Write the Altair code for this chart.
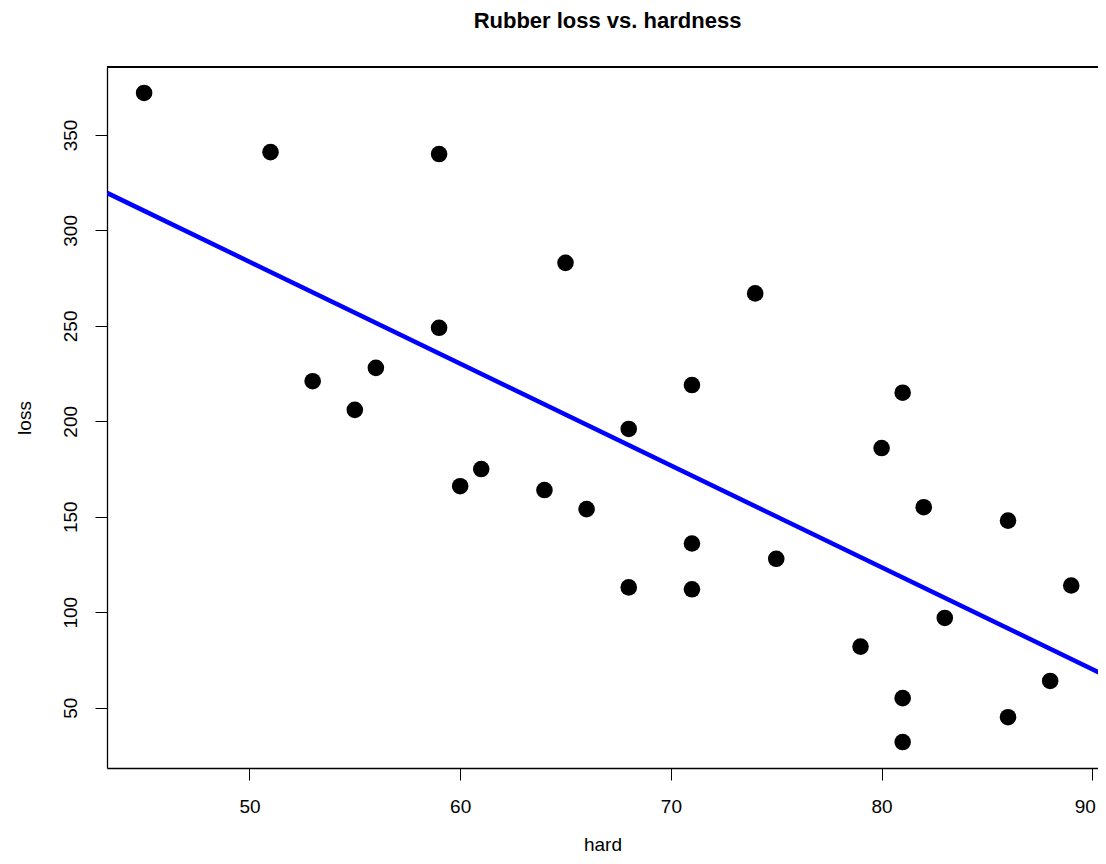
import altair as alt
import pandas as pd

hard = [45, 55, 61, 66, 71, 71, 81, 86, 53, 60, 64, 68, 79, 81, 56,
        68, 75, 83, 88, 59, 71, 80, 82, 89, 51, 59, 65, 74, 81, 86]
loss = [372, 206, 175, 154, 136, 112, 55, 45, 221, 166, 164, 113, 82, 32, 228,
        196, 128, 97, 64, 249, 219, 186, 155, 114, 341, 340, 283, 267, 215, 148]

df = pd.DataFrame({"hard": hard, "loss": loss})

# R's 4% extended range; right end trimmed to where the reference image is cut
XDOM = [43.24, 90.27]
LINE_EXT = [43.24, 90.76]
YDOM = [18.4, 385.6]
FONT = "Liberation Sans"

xscale = alt.Scale(domain=XDOM, nice=False, zero=False)
yscale = alt.Scale(domain=YDOM, nice=False, zero=False)

x = alt.X("hard:Q", scale=xscale,
          axis=alt.Axis(values=[50, 60, 70, 80, 90], title="hard", grid=False,
                        domain=True, domainColor="black", domainWidth=1.3,
                        tickSize=12, tickColor="black", tickWidth=1,
                        labelFont=FONT, labelFontSize=19, labelColor="black",
                        labelFlush=8, labelFlushOffset=3,
                        labelPadding=17, titleFont=FONT, titleFontSize=19,
                        titleFontWeight="normal", titleColor="black", titlePadding=19))
y = alt.Y("loss:Q", scale=yscale,
          axis=alt.Axis(values=[50, 100, 150, 200, 250, 300, 350], title="loss", grid=False,
                        domain=True, domainColor="black", domainWidth=1.3,
                        tickSize=12, tickColor="black", tickWidth=1,
                        labelFont=FONT, labelFontSize=19, labelColor="black",
                        labelAngle=-90, labelAlign="center", labelBaseline="bottom",
                        labelPadding=15, titleFont=FONT, titleFontSize=19,
                        titleFontWeight="normal", titleColor="black", titlePadding=27))

points = alt.Chart(df).mark_circle(size=275, color="black", opacity=1).encode(x=x, y=y)

line = alt.Chart(df).transform_regression(
    "hard", "loss", extent=LINE_EXT
).mark_line(color="#0000FF", strokeWidth=4.5, clip=True).encode(
    x=alt.X("hard:Q", scale=xscale),
    y=alt.Y("loss:Q", scale=yscale),
)

top_border = alt.Chart(df).mark_rule(color="black", strokeWidth=1.3).encode(
    y=alt.value(0)
)

chart = alt.layer(line, points, top_border).properties(
    width=991, height=701,
    title=alt.Title("Rubber loss vs. hardness", font=FONT, fontSize=22,
                    fontWeight="bold", color="black", anchor="middle", dx=5, offset=33),
    autosize=alt.AutoSizeParams(type="none"),
    padding={"left": 99, "top": 59, "right": 0, "bottom": 88},
).configure_view(stroke=None)

chart.save("out.html", embed_options={"renderer": "svg", "actions": False})
